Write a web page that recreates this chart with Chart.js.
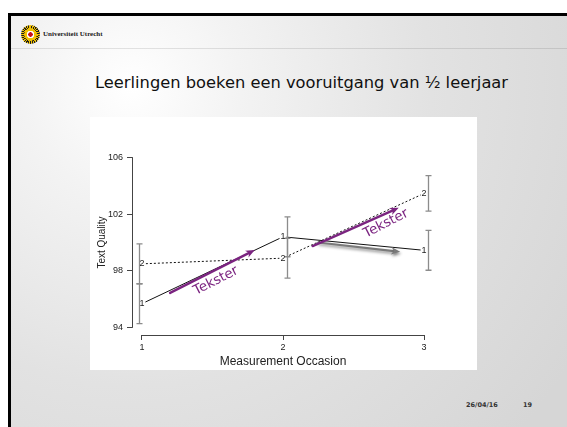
<!DOCTYPE html>
<html>
<head>
<meta charset="utf-8">
<script src="https://cdn.jsdelivr.net/npm/chart.js@4/dist/chart.umd.min.js"></script>
<style>
  body { margin: 0; width: 567px; height: 427px; overflow: hidden; background: #fff; position: relative; }
  .slide {
    position: absolute; left: 8px; top: 13px; width: 620px; height: 470px;
    border-top: 3px solid #000; border-left: 3px solid #000;
    background: radial-gradient(circle at 120px 70px, #ffffff 0px, #f3f3f3 110px, #e2e2e2 300px, #d6d6d6 520px);
  }
  .hline { position: absolute; left: 11px; top: 48px; width: 556px; height: 1px; background: rgba(0,0,0,0.10); }
  .logo {
    position: absolute; left: 21px; top: 25px; width: 19px; height: 19px; border-radius: 50%;
    background:
      radial-gradient(circle, #c8101a 0 2px, #ffffff 2.5px 3.5px, #f2c200 4px 6px, transparent 6.5px),
      repeating-conic-gradient(#f2c200 0 7deg, #1c1c1c 7deg 14deg);
  }
  .uu { position: absolute; left: 43px; top: 30.8px; font: bold 7px "Liberation Serif", serif; line-height: 1; color: #222; white-space: nowrap; }
  .title { position: absolute; left: 95px; top: 75px; font: 16.3px "DejaVu Sans", sans-serif; line-height: 1; color: #111; white-space: nowrap; }
  .foot { position: absolute; top: 401.8px; font: bold 6.5px "DejaVu Sans", sans-serif; line-height: 1; color: #333; }
  #box { position: absolute; left: 90px; top: 117px; width: 387px; height: 253px; background: #fff; }
</style>
</head>
<body>
<div class="slide"></div>
<div class="hline"></div>
<div class="logo"></div>
<div class="uu">Universiteit Utrecht</div>
<div class="title">Leerlingen boeken een vooruitgang van ½ leerjaar</div>
<div id="box"><canvas id="chart" width="387" height="253"></canvas></div>
<div class="foot" style="left:466px">26/04/16</div>
<div class="foot" style="left:523px">19</div>
<script>
// measurement occasions and group means
const occasions = [1, 2, 3]
const group1 = [95.7, 100.4, 99.45]
const group2 = [98.5, 98.9, 103.45]
// half-widths of the error bars
const group1Err = [1.4, 1.4, 1.4]
const group2Err = [1.4, 1.4, 1.25]
const groupMarks = ['1', '2']
const xTicks = [1, 2, 3]
const yTicks = [94, 98, 102, 106]

// "Tekster" annotations, in data units: [x1, y1, x2, y2]
const tekArrows = [[1.2, 96.46, 1.80, 99.47], [2.21, 99.75, 2.82, 102.44]]
const grayArrow = [2.25, 100.0, 2.83, 99.35]
const tekLabels = [[1.525, 97.3], [2.73, 101.33]]

const axisColor = '#444'
const purple = '#7b2480'
const tickFont = { family: 'Liberation Sans', size: 9 }

const arrow = (ctx, x1, y1, x2, y2, color, w) => {
  const a = Math.atan2(y2 - y1, x2 - x1)
  const head = 9, hw = 3.8
  const c = Math.cos(a), s = Math.sin(a)
  ctx.strokeStyle = color
  ctx.fillStyle = color
  ctx.lineWidth = w
  ctx.lineCap = 'round'
  ctx.beginPath()
  ctx.moveTo(x1, y1)
  ctx.lineTo(x2 - head * 0.7 * c, y2 - head * 0.7 * s)
  ctx.stroke()
  ctx.beginPath()
  ctx.moveTo(x2, y2)
  ctx.lineTo(x2 - head * c + hw * s, y2 - head * s - hw * c)
  ctx.lineTo(x2 - head * 0.7 * c, y2 - head * 0.7 * s)
  ctx.lineTo(x2 - head * c - hw * s, y2 - head * s + hw * c)
  ctx.closePath()
  ctx.fill()
}

const rStyle = {
  id: 'rStyle',
  beforeDatasetsDraw(chart) {
    const { ctx, scales: { x, y }, chartArea } = chart
    ctx.save()
    ctx.strokeStyle = axisColor
    ctx.lineWidth = 1
    const ax = Math.round(chartArea.left) + 0.5
    const ay = Math.round(chartArea.bottom) + 0.5
    ctx.beginPath()
    ctx.moveTo(ax, y.getPixelForValue(yTicks[0]))
    ctx.lineTo(ax, y.getPixelForValue(yTicks[yTicks.length - 1]))
    ctx.moveTo(x.getPixelForValue(xTicks[0]), ay)
    ctx.lineTo(x.getPixelForValue(xTicks[xTicks.length - 1]), ay)
    ctx.stroke()
    ctx.restore()
  },
  afterDatasetsDraw(chart) {
    const { ctx, scales: { x, y } } = chart
    ctx.save()

    // R style "b" plot: gap in the lines round each mark
    ctx.fillStyle = '#fff'
    chart.data.datasets.forEach((ds, di) => {
      chart.getDatasetMeta(di).data.forEach(pt => {
        ctx.fillRect(pt.x - 3.5, pt.y - 4.5, 7, 9)
      })
    })

    // error bars
    const shift = [-3, 4, 4]
    ctx.strokeStyle = '#8c8c8c'
    ctx.lineWidth = 1.3
    ;[[group1, group1Err], [group2, group2Err]].forEach(([vals, errs]) => {
      vals.forEach((v, i) => {
        const px = Math.round(x.getPixelForValue(occasions[i]) + shift[i]) + 0.5
        const lo = y.getPixelForValue(v - errs[i])
        const hi = y.getPixelForValue(v + errs[i])
        ctx.beginPath()
        ctx.moveTo(px, lo); ctx.lineTo(px, hi)
        ctx.moveTo(px - 3, lo); ctx.lineTo(px + 3, lo)
        ctx.moveTo(px - 3, hi); ctx.lineTo(px + 3, hi)
        ctx.stroke()
      })
    })

    // point marks "1" and "2"
    ctx.font = '9px "Liberation Sans"'
    ctx.fillStyle = '#222'
    ctx.textAlign = 'center'
    ctx.textBaseline = 'middle'
    chart.data.datasets.forEach((ds, di) => {
      chart.getDatasetMeta(di).data.forEach(pt => {
        ctx.fillText(groupMarks[di], pt.x, pt.y)
      })
    })

    // annotations
    ctx.save()
    ctx.shadowColor = 'rgba(0,0,0,0.45)'
    ctx.shadowBlur = 3
    ctx.shadowOffsetX = 1
    ctx.shadowOffsetY = 2
    const g = grayArrow
    arrow(ctx, x.getPixelForValue(g[0]), y.getPixelForValue(g[1]), x.getPixelForValue(g[2]), y.getPixelForValue(g[3]), '#7a7a7a', 2.2)
    ctx.restore()

    tekArrows.forEach(a => {
      arrow(ctx, x.getPixelForValue(a[0]), y.getPixelForValue(a[1]), x.getPixelForValue(a[2]), y.getPixelForValue(a[3]), purple, 2.4)
    })
    ctx.font = '13.5px "DejaVu Sans"'
    ctx.fillStyle = purple
    tekLabels.forEach(([lx, ly]) => {
      ctx.save()
      ctx.translate(x.getPixelForValue(lx), y.getPixelForValue(ly))
      ctx.rotate(-27 * Math.PI / 180)
      ctx.fillText('Tekster', 0, 0)
      ctx.restore()
    })
    ctx.restore()
  }
}

const points = vals => occasions.map((o, i) => ({ x: o, y: vals[i] }))

new Chart(document.getElementById('chart'), {
  type: 'line',
  data: {
    datasets: [
      { label: 'Group 1', data: points(group1), borderColor: '#111', borderWidth: 1, pointRadius: 0, tension: 0 },
      { label: 'Group 2', data: points(group2), borderColor: '#111', borderWidth: 1, borderDash: [2, 2], pointRadius: 0, tension: 0 }
    ]
  },
  options: {
    responsive: false,
    animation: false,
    devicePixelRatio: 1,
    layout: { padding: { top: 33, right: 43, left: 0, bottom: 0 } },
    plugins: { legend: { display: false }, tooltip: { enabled: false } },
    scales: {
      x: {
        type: 'linear',
        min: 0.93,
        max: 3.07,
        afterBuildTicks: s => { s.ticks = xTicks.map(v => ({ value: v })) },
        afterFit: s => { s.height = 35 },
        grid: { display: true, drawOnChartArea: false, drawTicks: true, tickLength: 5, color: axisColor },
        border: { display: false },
        ticks: { font: tickFont, color: '#222', padding: 2, maxRotation: 0 },
        title: { display: true, text: 'Measurement Occasion', color: '#222', font: { family: 'Liberation Sans', size: 12 }, padding: { top: 0, bottom: 1 } }
      },
      y: {
        min: 93.5,
        max: 106.5,
        afterBuildTicks: s => { s.ticks = yTicks.map(v => ({ value: v })) },
        afterFit: s => { s.width = 42 },
        grid: { display: true, drawOnChartArea: false, drawTicks: true, tickLength: 5, color: axisColor },
        border: { display: false },
        ticks: { font: tickFont, color: '#222', padding: 4 },
        title: { display: true, text: 'Text Quality', color: '#222', font: { family: 'Liberation Sans', size: 10 }, padding: { top: 6, bottom: 0 } }
      }
    }
  },
  plugins: [rStyle]
})
</script>
</body>
</html>
